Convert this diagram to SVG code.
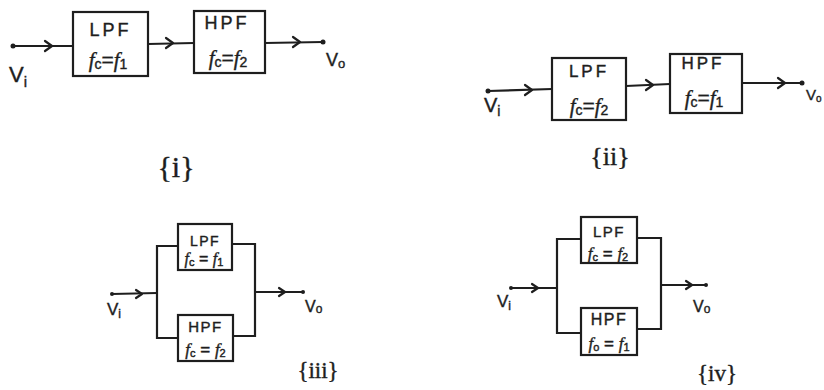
<svg xmlns="http://www.w3.org/2000/svg" width="824" height="390" viewBox="0 0 824 390">
<style>
.box{fill:none;stroke:#1e1e1e;stroke-width:2.2}
.wire{fill:none;stroke:#1e1e1e;stroke-width:2.2}
.arr{fill:none;stroke:#1e1e1e;stroke-width:2.2;stroke-linecap:round;stroke-linejoin:round}
.dot{fill:#1e1e1e}
.t{font-family:"Liberation Sans",Arial,sans-serif;fill:#1e1e1e;stroke:#1e1e1e;stroke-width:0.4}
.m{text-anchor:middle}
.f{font-family:"Liberation Serif","Times New Roman",serif;font-style:italic}
.b{font-family:"Liberation Serif","Times New Roman",serif;fill:#1e1e1e;text-anchor:middle;stroke:#1e1e1e;stroke-width:0.4}
</style>
<rect width="824" height="390" fill="#ffffff"/>

<g id="connectors">
  <!-- i -->
  <circle class="dot" cx="13" cy="46" r="2.5"/>
  <path class="wire" d="M13 46 L73 46"/>
  <path class="arr" d="M45 41 L52 46 L45 51"/>
  <path class="wire" d="M148 44 L194 43"/>
  <path class="arr" d="M166 38 L173 43 L166 48"/>
  <path class="wire" d="M265 43 L323 42"/>
  <path class="arr" d="M293 37 L300 42 L293 47"/>
  <circle class="dot" cx="323" cy="42" r="2.5"/>
  <!-- ii -->
  <circle class="dot" cx="488" cy="91" r="2.5"/>
  <path class="wire" d="M488 91 L552 89"/>
  <path class="arr" d="M525 85 L532 90 L525 95"/>
  <path class="wire" d="M626 86 L670 84"/>
  <path class="arr" d="M646 80 L653 85 L646 90"/>
  <path class="wire" d="M742 83 L802 83"/>
  <path class="arr" d="M778 78 L785 83 L778 88"/>
  <circle class="dot" cx="802" cy="83" r="2.5"/>
  <!-- iii -->
  <circle class="dot" cx="112" cy="294" r="2"/>
  <path class="wire" d="M112 294 L157 293"/>
  <path class="arr" d="M136 290 L142 294 L136 298"/>
  <path class="wire" d="M178 246 L157 246 L157 338 L178 338"/>
  <path class="wire" d="M232 244 L255 244 L255 336 L233 336"/>
  <path class="wire" d="M255 292 L303 292"/>
  <path class="arr" d="M279 288 L285 292 L279 296"/>
  <circle class="dot" cx="303" cy="292" r="2"/>
  <!-- iv -->
  <circle class="dot" cx="511" cy="288" r="2"/>
  <path class="wire" d="M511 288 L557 288"/>
  <path class="arr" d="M532 284 L538 288 L532 292"/>
  <path class="wire" d="M581 239 L557 239 L557 333 L581 333"/>
  <path class="wire" d="M637 238 L661 238 L661 329 L637 329"/>
  <path class="wire" d="M661 285 L706 285"/>
  <path class="arr" d="M686 281 L692 285 L686 289"/>
  <circle class="dot" cx="706" cy="285" r="2"/>
</g>

<g id="i-lpf">
  <rect class="box" x="73" y="12" width="75" height="64"/>
  <text class="t m" x="110.5" y="36" font-size="18" letter-spacing="3">LPF</text>
  <text class="t m" x="108" y="67" font-size="21"><tspan class="f">f</tspan><tspan font-size="14" dy="2">c</tspan><tspan dy="-2">=</tspan><tspan class="f">f</tspan><tspan font-size="14" dy="2">1</tspan></text>
</g>
<g id="i-hpf">
  <rect class="box" x="194" y="11" width="71" height="62"/>
  <text class="t m" x="227" y="29" font-size="18" letter-spacing="3">HPF</text>
  <text class="t m" x="228" y="65" font-size="21"><tspan class="f">f</tspan><tspan font-size="14" dy="2">c</tspan><tspan dy="-2">=</tspan><tspan class="f">f</tspan><tspan font-size="14" dy="2">2</tspan></text>
</g>
<g id="i-labels">
  <text class="t" x="9" y="82" font-size="22">V<tspan font-size="15" dy="5">i</tspan></text>
  <text class="t" x="326" y="66" font-size="18">V<tspan font-size="13" dy="2">o</tspan></text>
  <text class="b" x="176" y="177" font-size="30">{i}</text>
</g>

<g id="ii-lpf">
  <rect class="box" x="552" y="58" width="74" height="62"/>
  <text class="t m" x="589" y="77" font-size="17" letter-spacing="3">LPF</text>
  <text class="t m" x="589" y="113" font-size="21"><tspan class="f">f</tspan><tspan font-size="14" dy="2">c</tspan><tspan dy="-2">=</tspan><tspan class="f">f</tspan><tspan font-size="14" dy="2">2</tspan></text>
</g>
<g id="ii-hpf">
  <rect class="box" x="670" y="54" width="72" height="59"/>
  <text class="t m" x="703" y="69" font-size="17" letter-spacing="3">HPF</text>
  <text class="t m" x="704" y="105" font-size="21"><tspan class="f">f</tspan><tspan font-size="14" dy="2">c</tspan><tspan dy="-2">=</tspan><tspan class="f">f</tspan><tspan font-size="14" dy="2">1</tspan></text>
</g>
<g id="ii-labels">
  <text class="t" x="484" y="112" font-size="20">V<tspan font-size="14" dy="4">i</tspan></text>
  <text class="t" x="806" y="100" font-size="15">V<tspan font-size="10" dy="2">o</tspan></text>
  <text class="b" x="610" y="165" font-size="26">{ii}</text>
</g>

<g id="iii-lpf">
  <rect class="box" x="178" y="224" width="54" height="46"/>
  <text class="t m" x="205" y="246" font-size="14" letter-spacing="1.5">LPF</text>
  <text class="t m" x="204" y="264" font-size="16"><tspan class="f">f</tspan><tspan font-size="11" dy="2">c</tspan><tspan dy="-2"> = </tspan><tspan class="f">f</tspan><tspan font-size="11" dy="2">1</tspan></text>
</g>
<g id="iii-hpf">
  <rect class="box" x="178" y="315" width="55" height="46"/>
  <text class="t m" x="205.5" y="332" font-size="15" letter-spacing="1.5">HPF</text>
  <text class="t m" x="205.5" y="355" font-size="17"><tspan class="f">f</tspan><tspan font-size="11" dy="2">c</tspan><tspan dy="-2"> = </tspan><tspan class="f">f</tspan><tspan font-size="11" dy="2">2</tspan></text>
</g>
<g id="iii-labels">
  <text class="t" x="107" y="315" font-size="17">V<tspan font-size="12" dy="3">i</tspan></text>
  <text class="t" x="305" y="312" font-size="16">V<tspan font-size="12" dy="1">o</tspan></text>
  <text class="b" x="318" y="378" font-size="23">{iii}</text>
</g>

<g id="iv-lpf">
  <rect class="box" x="581" y="217" width="56" height="46"/>
  <text class="t m" x="609" y="237" font-size="15" letter-spacing="1.5">LPF</text>
  <text class="t m" x="608" y="259" font-size="17"><tspan class="f">f</tspan><tspan font-size="11" dy="2">c</tspan><tspan dy="-2"> = </tspan><tspan class="f">f</tspan><tspan font-size="11" dy="2">2</tspan></text>
</g>
<g id="iv-hpf">
  <rect class="box" x="581" y="308" width="56" height="47"/>
  <text class="t m" x="609" y="325" font-size="16" letter-spacing="1.5">HPF</text>
  <text class="t m" x="609" y="349" font-size="17"><tspan class="f">f</tspan><tspan font-size="11" dy="2">o</tspan><tspan dy="-2"> = </tspan><tspan class="f">f</tspan><tspan font-size="11" dy="2">1</tspan></text>
</g>
<g id="iv-labels">
  <text class="t" x="497" y="307" font-size="17">V<tspan font-size="12" dy="3">i</tspan></text>
  <text class="t" x="693" y="312" font-size="16">V<tspan font-size="12" dy="1">o</tspan></text>
  <text class="b" x="717" y="381" font-size="23">{iv}</text>
</g>
</svg>
